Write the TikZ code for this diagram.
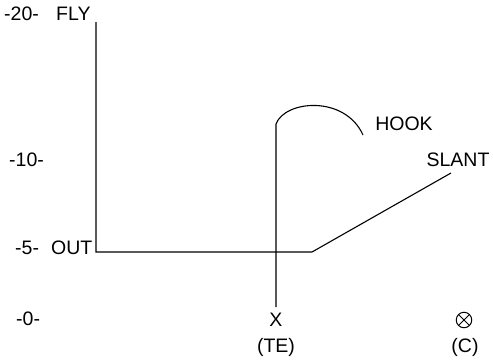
\documentclass[tikz,border=0pt]{standalone}
\usepackage{fontspec}
\setmainfont{Liberation Sans}
\begin{document}
\begin{tikzpicture}[x=1pt, y=-1pt,
		lbl/.style={font=\fontsize{19.5}{22}\selectfont, inner sep=0pt},
		route/.style={line width=1.1pt, line join=miter}]
	\useasboundingbox (0,0) rectangle (493,360);
	% 纵轴刻度（码数）
	\node[lbl, anchor=west] (y20) at (4,14) {-20-};
	\node[lbl, anchor=west] (y10) at (9,160) {-10-};
	\node[lbl, anchor=west] (y5) at (15,248) {-5-};
	\node[lbl, anchor=west] (y0) at (16,319) {-0-};
	% 路线名称
	\node[lbl, anchor=west] (fly) at (56,14) {FLY};
	\node[lbl, anchor=west] (out) at (51,248) {OUT};
	\node[lbl] (hook) at (404,124) {HOOK};
	\node[lbl] (slant) at (458,160) {SLANT};
	% 球员
	\node[lbl] (te) at (276,320) {X};
	\node[lbl] (tename) at (276,347) {(TE)};
	\node[circle, draw, line width=1pt, minimum size=15.5pt, inner sep=0pt,
		path picture={\draw[line width=1pt] (path picture bounding box.north west) -- (path picture bounding box.south east)
			(path picture bounding box.north east) -- (path picture bounding box.south west);}] (c) at (464,320) {};
	\node[lbl] (cname) at (465,347) {(C)};

	% 路线的拐点
	\coordinate (flytop) at (96,22);
	\coordinate (corner) at (96,252);
	\coordinate (brk) at (312,252);
	\coordinate (slantend) at (451,173);
	\coordinate (tetop) at (276,307);
	\coordinate (hookbase) at (276,124);
	\coordinate (hookend) at (363,135);

	% FLY 与 OUT、SLANT 组成的折线
	\draw[route] (flytop) -- (corner) -- (brk) -- (slantend);
	% TE 的 HOOK
	\draw[route] (tetop) -- (hookbase) .. controls (285,100) and (345,95) .. (hookend);
\end{tikzpicture}
\end{document}
